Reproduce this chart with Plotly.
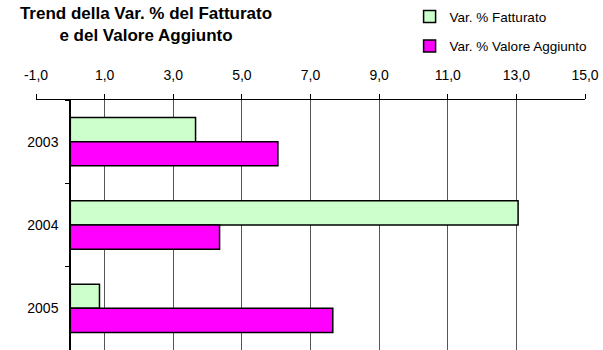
import plotly.graph_objects as go

# Annual percentage change: turnover vs value added
anni = ["2003", "2004", "2005"]
var_fatturato = [3.65, 13.05, 0.85]
var_valore_aggiunto = [6.05, 4.35, 7.65]
tick_vals = [-1, 1, 3, 5, 7, 9, 11, 13, 15]
tick_text = ["-1,0", "1,0", "3,0", "5,0", "7,0", "9,0", "11,0", "13,0", "15,0"]

FONT = "Liberation Sans, Arial, sans-serif"

fig = go.Figure()
fig.add_trace(go.Bar(
    name="Var. % Fatturato",
    y=anni, x=var_fatturato, orientation="h",
    marker=dict(color="#CCFFCC", line=dict(color="black", width=1.5)),
    legendgroup="f",
))
fig.add_trace(go.Bar(
    name="Var. % Valore Aggiunto",
    y=anni, x=var_valore_aggiunto, orientation="h",
    marker=dict(color="#FF00FF", line=dict(color="black", width=1.5)),
    legendgroup="va",
))

fig.update_layout(
    width=603, height=350,
    margin=dict(l=36, r=18, t=100, b=0),
    paper_bgcolor="white", plot_bgcolor="white",
    separators=",.",
    barmode="group", bargap=0.42, bargroupgap=0,
    font=dict(family=FONT, size=14, color="black"),
    title=dict(
        text="Trend della Var. % del Fatturato<br>e del Valore Aggiunto",
        x=146 / 603, xanchor="center", xref="container",
        y=0.945, yanchor="top", yref="container",
        font=dict(family=FONT, size=17, weight="bold", color="black"),
    ),
    legend=dict(
        x=0.6805, y=1.395, xanchor="left", yanchor="top",
        font=dict(family=FONT, size=13.5, color="black"),
        traceorder="grouped", tracegroupgap=9,
        bgcolor="rgba(0,0,0,0)",
    ),
    xaxis=dict(
        range=[-1, 15], side="top",
        tickmode="array", tickvals=tick_vals, ticktext=tick_text,
        showgrid=True, gridcolor="#555555", gridwidth=1,
        showline=True, linecolor="black", linewidth=1,
        ticks="outside", ticklen=5, tickcolor="black",
        zeroline=True, zerolinecolor="black", zerolinewidth=1.5,
        ticklabelstandoff=8,
        tickfont=dict(family=FONT, size=14),
    ),
    yaxis=dict(
        type="category", categoryorder="array", categoryarray=anni,
        range=[2.5, -0.5],
        anchor="free", position=(70 - 36) / 549,
        showline=True, linecolor="black", linewidth=1.5,
        ticks="outside", tickson="boundaries", ticklen=4, tickcolor="black",
        showgrid=False, zeroline=False,
        ticklabelstandoff=8,
        tickfont=dict(family=FONT, size=14),
    ),
)

fig.write_html("out.html")
